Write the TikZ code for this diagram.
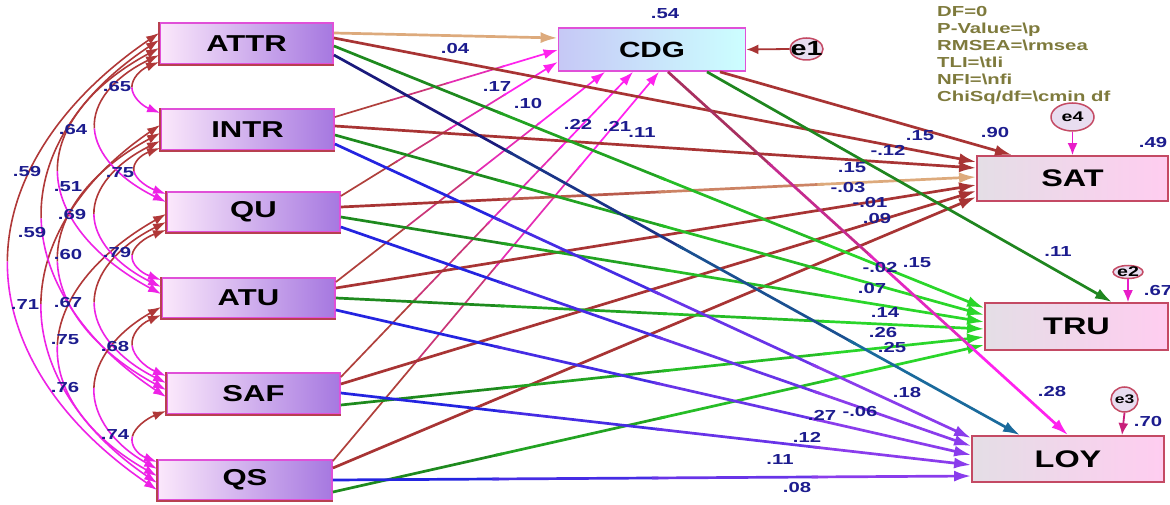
\documentclass[tikz,border=0pt]{standalone}
\usepackage{fontspec}
\usetikzlibrary{calc,arrows.meta,shapes.geometric}
\newfontfamily\boxf{Liberation Sans}[FakeStretch=1.35]
\newfontfamily\numf{Liberation Sans}[FakeStretch=1.4]
\definecolor{numblue}{HTML}{1C1C8E}
\definecolor{fitol}{HTML}{7E7A3C}
\definecolor{pbrown}{HTML}{A83434}
\definecolor{ptan}{HTML}{DDAA7C}
\definecolor{dgreen}{HTML}{1E8A1E}
\definecolor{bgreen}{HTML}{2AD62A}
\definecolor{cgreen}{HTML}{1F861F}
\definecolor{navyc}{HTML}{1A1A7C}
\definecolor{tealc}{HTML}{1A6A9C}
\definecolor{pblue}{HTML}{2424E0}
\definecolor{ppurple}{HTML}{8A3CEC}
\definecolor{pmag}{HTML}{FF22EE}
\definecolor{tbrown}{HTML}{B0403C}
\definecolor{lpink}{HTML}{A83060}
\definecolor{arcbrown}{HTML}{B03838}
\definecolor{arcmag}{HTML}{EE22E6}
\definecolor{lbL}{HTML}{FBE8FB}
\definecolor{lbR}{HTML}{A678E0}
\definecolor{lbD}{HTML}{E050D8}
\definecolor{lbB}{HTML}{B84050}
\definecolor{cdgL}{HTML}{C6C8F6}
\definecolor{cdgR}{HTML}{CCFFFF}
\definecolor{rbL}{HTML}{E4DEE6}
\definecolor{rbR}{HTML}{FFCDF0}
\definecolor{rbD}{HTML}{C44A64}
\definecolor{eF}{HTML}{E8DDF0}
\definecolor{emag}{HTML}{E81CC8}
\definecolor{edark}{HTML}{C8207A}

% gradient line: [style]{from}{to}{start colour}{end colour}
\newcommand\gl[5][]{%
 \draw[#1,draw=#4] (#2) -- ($(#2)!0.26!(#3)$);
 \draw[#1,draw=#4!67!#5] ($(#2)!0.25!(#3)$) -- ($(#2)!0.51!(#3)$);
 \draw[#1,draw=#4!33!#5] ($(#2)!0.5!(#3)$) -- ($(#2)!0.76!(#3)$);
 \draw[#1,draw=#5,->] ($(#2)!0.75!(#3)$) -- (#3);
}
% covariance arc: {upper}{lower}{d}{e}
\newcommand\covarc[4]{%
 \draw[covA] (#1) .. controls ($(#1)+(-0.5*#3,0.5*#4)$) and ($(#1)!0.25!(#2)+(-0.75*#3,0.25*#4)$) .. ($(#1)!0.5!(#2)+(-0.75*#3,0)$);
 \draw[covB] ($(#1)!0.5!(#2)+(-0.75*#3,0)$) .. controls ($(#1)!0.75!(#2)+(-0.75*#3,-0.25*#4)$) and ($(#2)+(-0.5*#3,-0.5*#4)$) .. (#2);
}

\begin{document}
\begin{tikzpicture}[x=1pt,y=-1pt,
 >={Latex[length=17pt,width=11pt]},
 lbox/.style={draw=lbD,line width=1.8pt,left color=lbL,right color=lbR,inner sep=0pt,font=\boxf\bfseries\fontsize{23}{23}\selectfont},
 rbox/.style={draw=rbD,line width=1.8pt,left color=rbL,right color=rbR,inner sep=0pt,font=\boxf\bfseries\fontsize{24}{24}\selectfont},
 cbox/.style={draw=lbD,line width=1.8pt,left color=cdgL,right color=cdgR,inner sep=0pt,font=\boxf\bfseries\fontsize{22}{22}\selectfont},
 eell/.style={ellipse,draw=rbD,line width=1.5pt,fill=eF,inner sep=0pt},
 etext/.style={font=\numf\bfseries\fontsize{14}{14}\selectfont,text=black,inner sep=0pt},
 num/.style={text=numblue,font=\numf\bfseries\fontsize{14.5}{14.5}\selectfont,inner sep=0pt},
 fitline/.style={text=fitol,font=\numf\bfseries\fontsize{14.5}{14.5}\selectfont,inner sep=0pt,anchor=base west},
 pline/.style={line width=2.7pt},
 thinl/.style={line width=1.7pt,>={Latex[length=14pt,width=10pt]}},
 covA/.style={draw=arcbrown,line width=1.6pt,>={Latex[length=13pt,width=9pt]},<-},
 covB/.style={draw=arcmag,line width=1.6pt,>={Latex[length=13pt,width=9pt]},->},
 earr/.style={line width=1.8pt,>={Latex[length=12pt,width=10pt]},->}
]
\useasboundingbox (0,0) rectangle (1170,505);
\fill[white] (0,0) rectangle (1170,505);

% boxes
\node[lbox,minimum width=173pt,minimum height=41pt] (ATTR) at (246.5,43.5) {ATTR};
\node[lbox,minimum width=173pt,minimum height=41pt] (INTR) at (247.5,129.5) {INTR};
\node[lbox,minimum width=173pt,minimum height=40pt] (QU) at (253.5,212) {QU};
\node[lbox,minimum width=173pt,minimum height=40pt] (ATU) at (248.5,298) {ATU};
\node[lbox,minimum width=173pt,minimum height=41pt] (SAF) at (253.5,393.5) {SAF};
\node[lbox,minimum width=174pt,minimum height=40pt] (QS) at (245,480) {QS};
\foreach \n in {ATTR,INTR,QU,ATU,SAF,QS}
  \draw[lbB,line width=1.8pt] (\n.north west) -- (\n.south west) -- (\n.south east);
\node[cbox,minimum width=187pt,minimum height=43pt] (CDG) at (652,49.5) {CDG};
\node[rbox,minimum width=191pt,minimum height=45pt] (SAT) at (1072.5,178.5) {SAT};
\node[rbox,minimum width=183pt,minimum height=47pt] (TRU) at (1076.5,326.5) {TRU};
\node[rbox,minimum width=192pt,minimum height=46pt] (LOY) at (1068,459) {LOY};

% error terms
\node[eell,minimum width=33pt,minimum height=22pt,label={[etext,font=\numf\bfseries\fontsize{20.5}{20.5}\selectfont]center:e1}] (e1) at (806.5,49) {};
\node[eell,minimum width=43pt,minimum height=28pt,label={[etext]center:e4}] (e4) at (1072.5,117) {};
\node[eell,minimum width=30pt,minimum height=13pt,label={[etext]center:e2}] (e2) at (1128,272) {};
\node[eell,minimum width=27pt,minimum height=25pt,label={[etext,font=\numf\bfseries\fontsize{12.5}{12.5}\selectfont]center:e3}] (e3) at (1124.5,399.5) {};
\draw[earr,pbrown] (e1.west) -- (CDG.east);
\draw[earr,emag] (e4.south) -- (SAT.north);
\draw[earr,emag] (e2.south) -- (e2.south |- TRU.north);
\draw[earr,edark] (e3.south) -- ($(LOY.north)+(54,0)$);

% source points
\foreach \n/\c/\s/\t/\l in {ATTR/-10.5/-5.5/2.5/11.5, INTR/-12.5/-3.5/5.5/14.5, QU/-16/-5/5/15,
   ATU/-16/-10/0/12, SAF/-16.5/-9.5/11.5/-0.5, QS/-19/-12/12/0} {
  \coordinate (\n-c) at ($(\n.east)+(0,\c)$);
  \coordinate (\n-s) at ($(\n.east)+(0,\s)$);
  \coordinate (\n-t) at ($(\n.east)+(0,\t)$);
  \coordinate (\n-l) at ($(\n.east)+(0,\l)$);
}
% target points
\coordinate (CDG-ATTR) at ($(CDG.west)+(0,-11.5)$);
\coordinate (CDG-INTR) at ($(CDG.west)+(0,0.5)$);
\coordinate (CDG-QU) at ($(CDG.west)+(0,12.5)$);
\coordinate (CDG-ATU) at ($(CDG.south)+(-47,0)$);
\coordinate (CDG-SAF) at ($(CDG.south)+(-19,0)$);
\coordinate (CDG-QS) at ($(CDG.south)+(7,0)$);
\coordinate (CDG-oL) at ($(CDG.south)+(16,0)$);
\coordinate (CDG-oT) at ($(CDG.south)+(55,0)$);
\coordinate (CDG-oS) at ($(CDG.south)+(68,0)$);
\foreach \n/\a/\b/\cc in {ATTR/-16.5/-18.5/0, INTR/-10.5/-11.5/-21, QU/-1.5/-4.5/-13,
   ATU/6.5/2.5/-4, SAF/12.5/10.5/6, QS/18.5/18.5/17} {
  \coordinate (SAT-\n) at ($(SAT.west)+(0,\a)$);
  \coordinate (TRU-\n) at ($(TRU.west)+(0,\b)$);
  \coordinate (LOY-\n) at ($(LOY.west)+(0,\cc)$);
}
\coordinate (SAT-CDG) at ($(SAT.north)+(-60.5,0)$);
\coordinate (TRU-CDG) at ($(TRU.north)+(35.5,0)$);
\coordinate (LOY-ATTR) at ($(LOY.north)+(-48,0)$);
\coordinate (LOY-CDG) at (LOY.north);

% covariances
\foreach \k/\ub/\uo/\lb/\lo/\dd/\ee in {
  15/ATTR/-10.5/QS/10/201/137, 14/INTR/-4.5/QS/3/157/107, 13/ATTR/-3.5/SAF/3.5/162/107,
  12/QU/2/QS/-4/139/79, 11/INTR/3.5/SAF/-3.5/141/77, 10/ATTR/4.5/ATU/-4/137/74,
  9/ATU/9/QS/-11/87/49, 8/QU/10/SAF/-10.5/96/48, 7/INTR/11.5/ATU/-11/89/44, 6/ATTR/11.5/QU/-10/91/44,
  5/SAF/17.5/QS/-18/39/15, 4/ATU/17/SAF/-17.5/42/18, 3/QU/18/ATU/-18/42/15,
  2/INTR/18.5/QU/-18/39/14, 1/ATTR/18.5/INTR/-16.5/37/15} {
  \coordinate (u\k) at ($(\ub.west)+(0,\uo)$);
  \coordinate (d\k) at ($(\lb.west)+(0,\lo)$);
  \covarc{u\k}{d\k}{\dd}{\ee}
}

% paths to CDG
\draw[pline,ptan,->] (ATTR-c) -- (CDG-ATTR);
\foreach \n in {INTR,QU,ATU,SAF,QS} { \gl[thinl]{\n-c}{CDG-\n}{tbrown}{pmag} }
% paths to SAT
\foreach \n in {ATTR,INTR,ATU,SAF,QS} { \draw[pline,pbrown,->] (\n-s) -- (SAT-\n); }
\gl[pline]{QU-s}{SAT-QU}{pbrown}{ptan}
\draw[pline,pbrown,->] (CDG-oS) -- (SAT-CDG);
% paths to TRU
\foreach \n in {ATTR,INTR,QU,ATU,SAF,QS} { \gl[pline]{\n-t}{TRU-\n}{dgreen}{bgreen} }
\draw[pline,cgreen,->] (CDG-oT) -- (TRU-CDG);
% paths to LOY
\gl[pline]{ATTR-l}{LOY-ATTR}{navyc}{tealc}
\foreach \n in {INTR,QU,ATU,SAF,QS} { \gl[pline]{\n-l}{LOY-\n}{pblue}{ppurple} }
\gl[pline]{CDG-oL}{LOY-CDG}{lpink}{pmag}

% coefficient labels
\foreach \x/\y/\t [count=\i] in {
 665/14/.54, 455/49/.04, 497/87/.17, 528/104/.10, 578/124/.22, 617/126/.21, 642/133/.11,
 995/133/.90, 920/136/.15, 888/150/-.12, 852/168/.15, 848/188/-.03, 870/203/-.01, 877/219/.09,
 1153/143/.49, 1058/252/.11, 880/268/-.02, 917/263/.15, 872/289/.07, 885/313/.14, 883/333/.26,
 892/348/.25, 1158/291/.67, 1052/392/.28, 1148/422/.70, 907/393/.18, 822/415/.27, 860/412/-.06,
 807/437/.12, 780/460/.11, 797/488/.08,
 117/87/.65, 73/130/.64, 27/172/.59, 68/187/.51, 120/173/.75, 72/215/.69, 32/233/.59,
 68/255/.60, 117/253/.79, 25/305/.71, 68/303/.67, 65/340/.75, 115/347/.68, 65/388/.76, 115/435/.74}
 { \node[num] (n\i) at (\x,\y) {\t}; }

% fit indices
\node[fitline] (f1) at (937,17) {DF=0};
\node[fitline] (f2) at (937,34) {P-Value=\textbackslash p};
\node[fitline] (f3) at (937,51) {RMSEA=\textbackslash rmsea};
\node[fitline] (f4) at (937,68) {TLI=\textbackslash tli};
\node[fitline] (f5) at (937,85) {NFI=\textbackslash nfi};
\node[fitline] (f6) at (937,102) {ChiSq/df=\textbackslash cmin df};
\end{tikzpicture}
\end{document}
